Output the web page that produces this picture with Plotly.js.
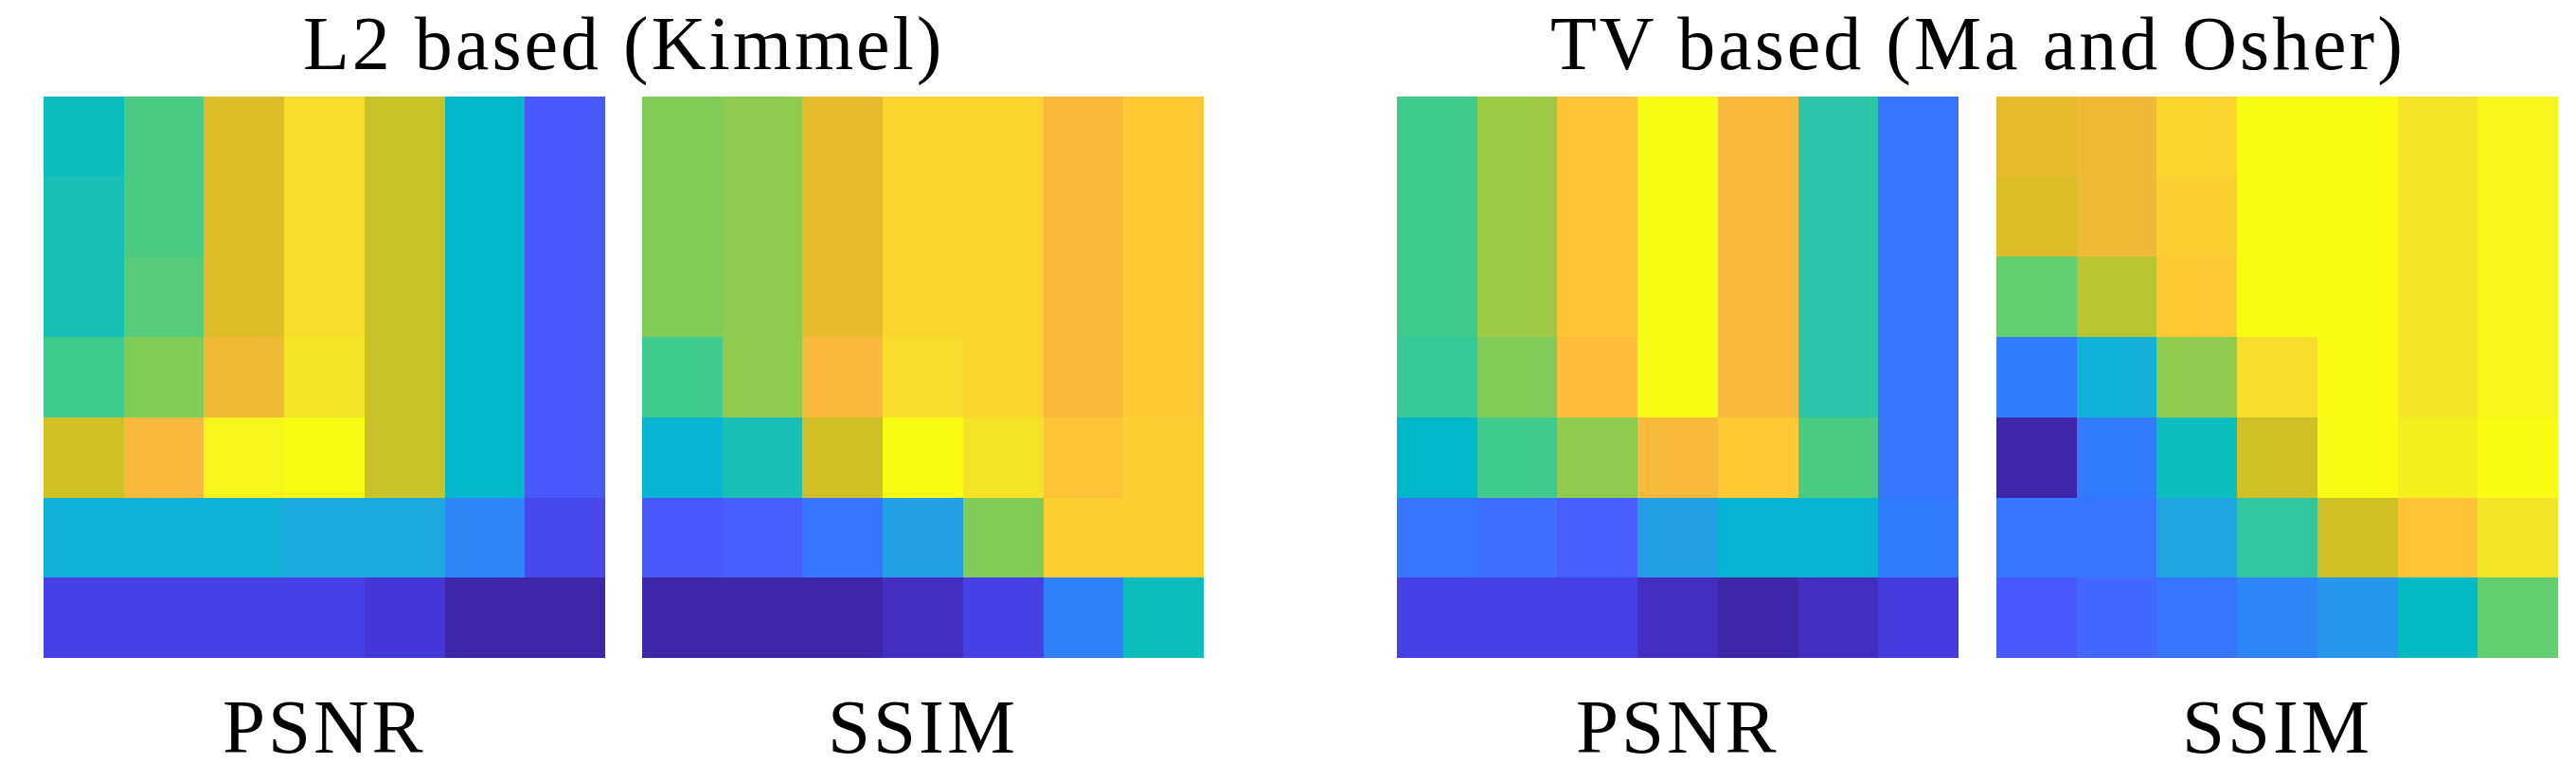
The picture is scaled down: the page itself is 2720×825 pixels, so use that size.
<!DOCTYPE html>
<html>
<head>
<meta charset="utf-8">
<script src="https://cdn.plot.ly/plotly-3.0.1.min.js"></script>
<style>
html,body{margin:0;padding:0;background:#fff;}
#chart{width:2720px;height:825px;}
.annotation-text{letter-spacing:3px;}
</style>
</head>
<body>
<div id="chart"></div>
<script>
// Values are colour levels (1..64 of the parula colormap), rows listed top to bottom
const groupTitles = ["L2 based (Kimmel)", "TV based (Ma and Osher)"];
const panelLabels = ["PSNR", "SSIM", "PSNR", "SSIM"];

const l2Psnr = [
  [32, 39, 50, 59, 48, 30, 11],
  [33, 39, 50, 59, 48, 30, 11],
  [33, 40, 50, 59, 48, 30, 11],
  [38, 43, 52, 60, 48, 30, 11],
  [49, 53, 63, 64, 48, 30, 11],
  [28, 28, 28, 26, 26, 19, 8],
  [7, 7, 7, 7, 5, 1, 1]
];
const l2Ssim = [
  [43, 44, 51, 58, 58, 53, 56],
  [43, 44, 51, 58, 58, 53, 56],
  [43, 44, 51, 58, 58, 53, 56],
  [38, 44, 53, 59, 58, 53, 56],
  [29, 33, 49, 64, 60, 55, 57],
  [11, 12, 16, 24, 43, 57, 57],
  [1, 1, 1, 3, 7, 18, 32]
];
const tvPsnr = [
  [38, 45, 55, 64, 53, 35, 16],
  [38, 45, 55, 64, 53, 35, 16],
  [38, 45, 55, 64, 53, 35, 16],
  [37, 43, 54, 64, 53, 35, 16],
  [30, 38, 44, 53, 56, 39, 16],
  [16, 15, 12, 24, 29, 29, 17],
  [7, 7, 7, 3, 1, 3, 6]
];
const tvSsim = [
  [51, 52, 58, 64, 64, 60, 63],
  [50, 52, 57, 64, 64, 60, 63],
  [41, 47, 56, 64, 64, 60, 63],
  [17, 28, 44, 59, 64, 60, 63],
  [1, 17, 32, 49, 64, 62, 64],
  [16, 16, 25, 36, 49, 55, 60],
  [11, 14, 16, 19, 22, 31, 41]
];

// MATLAB parula (64 entries)
const parula = [
[0.2422,0.1504,0.6603],[0.2504,0.1650,0.7076],[0.2578,0.1818,0.7511],[0.2647,0.1978,0.7952],
[0.2706,0.2147,0.8364],[0.2751,0.2342,0.8710],[0.2783,0.2559,0.8991],[0.2803,0.2782,0.9221],
[0.2813,0.3006,0.9414],[0.2810,0.3228,0.9579],[0.2795,0.3447,0.9717],[0.2760,0.3667,0.9829],
[0.2699,0.3892,0.9906],[0.2602,0.4123,0.9952],[0.2440,0.4358,0.9988],[0.2206,0.4603,0.9973],
[0.1963,0.4847,0.9892],[0.1834,0.5074,0.9798],[0.1786,0.5289,0.9682],[0.1764,0.5499,0.9520],
[0.1687,0.5703,0.9359],[0.1540,0.5902,0.9218],[0.1460,0.6091,0.9079],[0.1380,0.6276,0.8973],
[0.1248,0.6459,0.8883],[0.1113,0.6635,0.8763],[0.0952,0.6798,0.8598],[0.0689,0.6948,0.8394],
[0.0297,0.7082,0.8163],[0.0036,0.7203,0.7917],[0.0067,0.7312,0.7660],[0.0433,0.7411,0.7394],
[0.0964,0.7500,0.7120],[0.1408,0.7584,0.6842],[0.1717,0.7670,0.6554],[0.1938,0.7758,0.6251],
[0.2161,0.7843,0.5923],[0.2470,0.7918,0.5567],[0.2906,0.7973,0.5188],[0.3406,0.8008,0.4789],
[0.3909,0.8029,0.4354],[0.4456,0.8024,0.3909],[0.5044,0.7993,0.3480],[0.5616,0.7942,0.3045],
[0.6174,0.7876,0.2612],[0.6720,0.7793,0.2227],[0.7242,0.7698,0.1910],[0.7738,0.7598,0.1646],
[0.8203,0.7498,0.1535],[0.8634,0.7406,0.1596],[0.9035,0.7330,0.1774],[0.9393,0.7288,0.2100],
[0.9728,0.7298,0.2394],[0.9956,0.7434,0.2371],[0.9970,0.7659,0.2199],[0.9952,0.7893,0.2028],
[0.9892,0.8136,0.1885],[0.9786,0.8386,0.1766],[0.9676,0.8639,0.1643],[0.9610,0.8890,0.1537],
[0.9597,0.9135,0.1423],[0.9628,0.9373,0.1265],[0.9691,0.9606,0.1064],[0.9769,0.9839,0.0805]
];
const colorscale = parula.map((c, i) => [i / (parula.length - 1),
  'rgb(' + c.map(v => Math.round(v * 255)).join(',') + ')']);

const W = 2720, H = 825;
const panels = [l2Psnr, l2Ssim, tvPsnr, tvSsim];
const pxLeft = [46, 678, 1475, 2108];
const pxWidth = 593;
const pxTop = 102, pxBottom = 695;

const traces = [];
const layout = {
  width: W, height: H,
  margin: {l: 0, r: 0, t: 0, b: 0},
  paper_bgcolor: '#fff', plot_bgcolor: '#fff',
  showlegend: false,
  annotations: []
};
const fontFam = '"Liberation Serif", "Times New Roman", serif';

panels.forEach((z, k) => {
  const n = k + 1;
  const sfx = n === 1 ? '' : String(n);
  traces.push({
    type: 'heatmap', z: z,
    xaxis: 'x' + sfx, yaxis: 'y' + sfx,
    colorscale: colorscale, zmin: 1, zmax: 64, showscale: false,
    hoverinfo: 'z'
  });
  layout['xaxis' + sfx] = {
    domain: [pxLeft[k] / W, (pxLeft[k] + pxWidth) / W],
    anchor: 'y' + sfx,
    showgrid: false, zeroline: false, showticklabels: false, ticks: '',
    showline: false, range: [-0.5, 6.5], fixedrange: true
  };
  layout['yaxis' + sfx] = {
    domain: [1 - pxBottom / H, 1 - pxTop / H],
    anchor: 'x' + sfx,
    showgrid: false, zeroline: false, showticklabels: false, ticks: '',
    showline: false, range: [6.5, -0.5], fixedrange: true
  };
  layout.annotations.push({
    text: panelLabels[k], xref: 'paper', yref: 'paper',
    x: (pxLeft[k] + pxWidth / 2) / W, y: 1 - 768 / H,
    xanchor: 'center', yanchor: 'middle', showarrow: false,
    font: {family: fontFam, size: 81, color: '#000'}
  });
});

[[0, 1], [2, 3]].forEach((pair, g) => {
  const cx = (pxLeft[pair[0]] + pxLeft[pair[1]] + pxWidth) / 2;
  layout.annotations.push({
    text: groupTitles[g], xref: 'paper', yref: 'paper',
    x: cx / W, y: 1,
    xanchor: 'center', yanchor: 'top', showarrow: false,
    font: {family: fontFam, size: 80, color: '#000'}
  });
});

Plotly.newPlot('chart', traces, layout, {displayModeBar: false, staticPlot: true});
</script>
</body>
</html>
